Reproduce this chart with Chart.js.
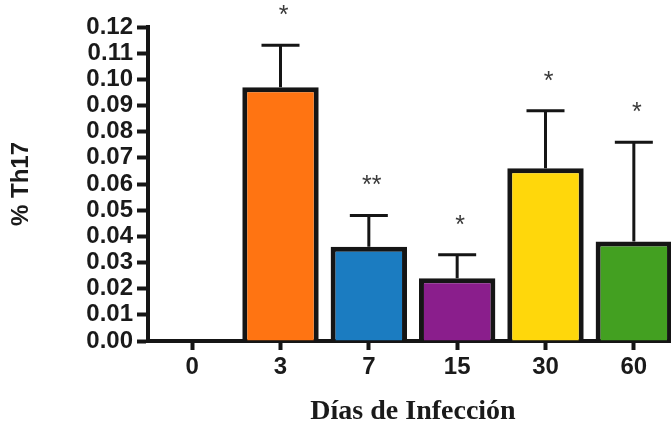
<!DOCTYPE html>
<html>
<head>
<meta charset="utf-8">
<script src="https://cdn.jsdelivr.net/npm/chart.js@4.4.1/dist/chart.umd.min.js"></script>
<style>
  html, body { margin: 0; padding: 0; background: #fff; overflow: hidden; width: 671px; height: 433px; }
  canvas { display: block; }
</style>
</head>
<body>
<canvas id="c" width="678" height="433"></canvas>
<script>
// Días post-infección
const dias = ['0', '3', '7', '15', '30', '60'];
// % Th17 (media) y límite superior del error (media + EEM)
const th17 = [0, 0.097, 0.036, 0.024, 0.066, 0.038];
const errSup = [null, 0.113, 0.048, 0.033, 0.088, 0.076];
// Significancia estadística
const signif = ['', '*', '**', '*', '*', '*'];
// Colores de cada barra
const colores = ['#ffffff', '#ff7412', '#1b7cc1', '#8a1e8c', '#ffd70b', '#43a021'];

const tinta = '#151515';

// Barras de error (solo hacia arriba) y asteriscos de significancia
const barrasError = {
  id: 'barrasError',
  afterDatasetsDraw(chart) {
    const { ctx, scales: { y } } = chart;
    const meta = chart.getDatasetMeta(0);
    ctx.save();
    meta.data.forEach((bar, i) => {
      if (errSup[i] == null) return;
      const yTop = y.getPixelForValue(errSup[i]);
      const yBar = y.getPixelForValue(th17[i]);
      ctx.strokeStyle = tinta;
      ctx.lineWidth = 3;
      ctx.beginPath();
      ctx.moveTo(bar.x, yBar);
      ctx.lineTo(bar.x, yTop);
      ctx.moveTo(bar.x - 19, yTop);
      ctx.lineTo(bar.x + 19, yTop);
      ctx.stroke();
      if (signif[i]) {
        ctx.fillStyle = '#3a3a3a';
        ctx.font = '25px "Liberation Sans", Arial, sans-serif';
        ctx.textAlign = 'center';
        ctx.textBaseline = 'alphabetic';
        ctx.fillText(signif[i], bar.x + 3, yTop - 22);
      }
    });
    ctx.restore();
  }
};

new Chart(document.getElementById('c'), {
  type: 'bar',
  data: {
    labels: dias,
    datasets: [{
      data: th17,
      backgroundColor: colores,
      borderColor: tinta,
      borderWidth: 5,
      borderSkipped: 'start',
      categoryPercentage: 1,
      barPercentage: 0.865
    }]
  },
  options: {
    responsive: false,
    animation: false,
    events: [],
    layout: { padding: { top: 27, left: 0, right: 0, bottom: 0 } },
    plugins: { legend: { display: false }, tooltip: { enabled: false } },
    scales: {
      x: {
        z: 1,
        offset: true,
        grid: {
          display: true, offset: false, drawOnChartArea: false, drawTicks: true,
          tickLength: 9, tickWidth: 4, tickColor: tinta, color: tinta
        },
        border: { display: true, width: 4, color: tinta },
        ticks: {
          color: '#1a1a1a', padding: 3,
          font: { family: '"Liberation Sans", Arial, sans-serif', size: 24, weight: 'bold' }
        },
        title: {
          display: true, text: 'Días de Infección', color: '#1a1a1a',
          font: { family: '"Liberation Serif", "Times New Roman", serif', size: 28, weight: 'bold' },
          padding: { top: 0, bottom: 4 }
        },
        afterFit(scale) { scale.height = 92; }
      },
      y: {
        z: 1,
        min: 0, max: 0.12,
        grid: {
          display: true, drawOnChartArea: false, drawTicks: true,
          tickLength: 11, tickWidth: 4, tickColor: tinta, color: tinta
        },
        border: { display: true, width: 4, color: tinta },
        ticks: {
          stepSize: 0.01, autoSkip: false, color: '#1a1a1a', padding: 4,
          font: { family: '"Liberation Sans", Arial, sans-serif', size: 24, weight: 'bold' },
          callback: v => v.toFixed(2)
        },
        title: {
          display: true, text: '% Th17', color: '#1a1a1a',
          font: { family: '"Liberation Sans", Arial, sans-serif', size: 24, weight: 'bold' },
          padding: { top: 7, bottom: 0 }
        },
        afterFit(scale) { scale.width = 148; }
      }
    }
  },
  plugins: [barrasError]
});
</script>
</body>
</html>
